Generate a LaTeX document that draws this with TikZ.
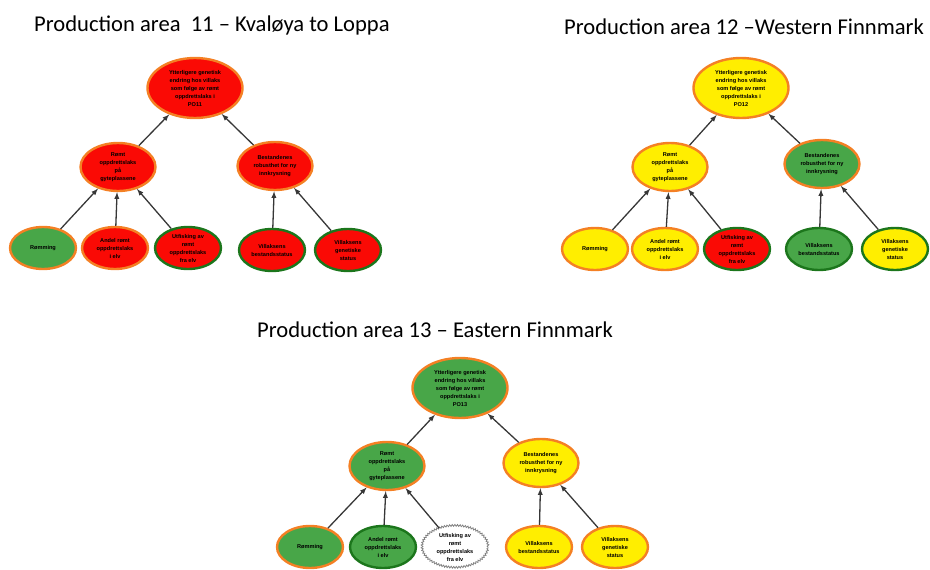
\documentclass[tikz,border=0pt]{standalone}
\usepackage{fontspec}
\setmainfont{Carlito}
\setsansfont{Liberation Sans}
\usepackage{xcolor}
\usepackage{tikz}
\usetikzlibrary{shapes.geometric,decorations.pathmorphing}

\definecolor{orangeline}{RGB}{244,128,36}
\definecolor{redfill}{RGB}{250,10,5}
\definecolor{greenfill}{RGB}{72,166,72}
\definecolor{greenline}{RGB}{28,118,28}
\definecolor{yellowfill}{RGB}{255,238,0}
\definecolor{arrowgray}{RGB}{55,55,55}

\begin{document}
\begin{tikzpicture}[
        x=1pt, y=-1pt,
        every node/.style={ellipse, inner sep=0pt, line width=2.4pt, align=center,
            font=\sffamily\bfseries\fontsize{5.6}{8}\selectfont},
        top/.style={minimum width=95pt, minimum height=60pt},
        mid/.style={minimum width=75pt, minimum height=48pt},
        leaf/.style={minimum width=66pt, minimum height=42pt},
        redor/.style={draw=orangeline, fill=redfill},
        redgr/.style={draw=greenline, fill=redfill},
        grnor/.style={draw=orangeline, fill=greenfill},
        grngr/.style={draw=greenline, fill=greenfill},
        yelor/.style={draw=orangeline, fill=yellowfill},
        yelgr/.style={draw=greenline, fill=yellowfill},
        wavy/.style={draw=gray, fill=white, line width=0.8pt, decorate,
            decoration={snake, amplitude=0.9pt, segment length=2.6pt}},
        title/.style={shape=rectangle, anchor=west, font=\fontsize{22.6}{26}\selectfont},
        link/.style={draw=arrowgray, line width=1.3pt, -latex},
    ]
        \useasboundingbox (0,0) rectangle (930,570);

        % Production area 11
        \node[title] (t11) at (33,25) {Production area\ \ 11 -- Kvaløya to Loppa};
        \node[top, redor] (a0) at (195,88) {Ytterligere genetisk\\endring hos villaks\\som følge av rømt\\oppdrettslaks i\\PO11};
        \node[mid, redor] (a1) at (118,167) {Rømt\\oppdrettslaks\\på\\gyteplassene};
        \node[mid, redor] (a2) at (275,166) {Bestandenes\\robusthet for ny\\innkrysning};
        \node[leaf, grnor] (a3) at (43,248) {Rømming};
        \node[leaf, redor] (a4) at (115,248) {Andel rømt\\oppdrettslaks\\i elv};
        \node[leaf, redgr] (a5) at (188,248) {Utfisking av\\rømt\\oppdrettslaks\\fra elv};
        \node[leaf, redgr] (a6) at (272,250) {Villaksens\\bestandsstatus};
        \node[leaf, redgr] (a7) at (348,250) {Villaksens\\genetiske\\status};
        \draw[link] (a1) -- (a0);
        \draw[link] (a2) -- (a0);
        \draw[link] (a3) -- (a1);
        \draw[link] (a4) -- (a1);
        \draw[link] (a5) -- (a1);
        \draw[link] (a6) -- (a2);
        \draw[link] (a7) -- (a2);

        % Production area 12
        \node[title] (t12) at (563,27) {Production area 12 --Western Finnmark};
        \node[top, yelor] (b0) at (741,88) {Ytterligere genetisk\\endring hos villaks\\som følge av rømt\\oppdrettslaks i\\PO12};
        \node[mid, yelor] (b1) at (670,167) {Rømt\\oppdrettslaks\\på\\gyteplassene};
        \node[mid, grnor] (b2) at (822,164) {Bestandenes\\robusthet for ny\\innkrysning};
        \node[leaf, yelor] (b3) at (595,249) {Rømming};
        \node[leaf, yelor] (b4) at (665,249) {Andel rømt\\oppdrettslaks\\i elv};
        \node[leaf, redgr] (b5) at (737,249) {Utfisking av\\rømt\\oppdrettslaks\\fra elv};
        \node[leaf, grngr] (b6) at (819,249) {Villaksens\\bestandsstatus};
        \node[leaf, yelgr] (b7) at (895,249) {Villaksens\\genetiske\\status};
        \draw[link] (b1) -- (b0);
        \draw[link] (b2) -- (b0);
        \draw[link] (b3) -- (b1);
        \draw[link] (b4) -- (b1);
        \draw[link] (b5) -- (b1);
        \draw[link] (b6) -- (b2);
        \draw[link] (b7) -- (b2);

        % Production area 13
        \node[title] (t13) at (256,330) {Production area 13 -- Eastern Finnmark};
        \node[top, grnor] (c0) at (460,388) {Ytterligere genetisk\\endring hos villaks\\som følge av rømt\\oppdrettslaks i\\PO13};
        \node[mid, grnor] (c1) at (387,466) {Rømt\\oppdrettslaks\\på\\gyteplassene};
        \node[mid, yelor] (c2) at (541,463) {Bestandenes\\robusthet for ny\\innkrysning};
        \node[leaf, grnor] (c3) at (310,547) {Rømming};
        \node[leaf, grngr] (c4) at (383,547) {Andel rømt\\oppdrettslaks\\i elv};
        \node[leaf, wavy] (c5) at (455,547) {Utfisking av\\rømt\\oppdrettslaks\\fra elv};
        \node[leaf, yelor] (c6) at (539,547) {Villaksens\\bestandsstatus};
        \node[leaf, yelor] (c7) at (615,547) {Villaksens\\genetiske\\status};
        \draw[link] (c1) -- (c0);
        \draw[link] (c2) -- (c0);
        \draw[link] (c3) -- (c1);
        \draw[link] (c4) -- (c1);
        \draw[link] (c5) -- (c1);
        \draw[link] (c6) -- (c2);
        \draw[link] (c7) -- (c2);
    \end{tikzpicture}
\end{document}
